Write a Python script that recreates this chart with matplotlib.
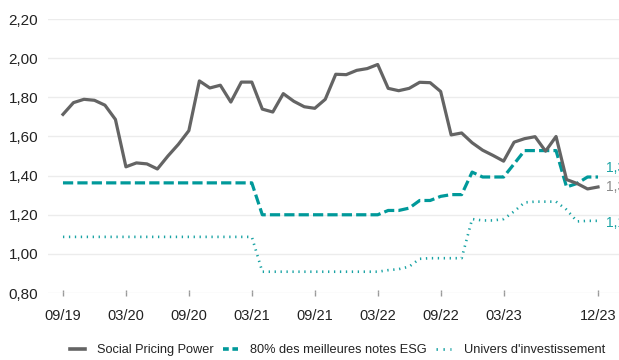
import matplotlib
matplotlib.use("Agg")
import matplotlib.pyplot as plt
from matplotlib.lines import Line2D

plt.rcParams['font.family'] = ['Liberation Sans', 'DejaVu Sans']

months = ["09/19", "10/19", "11/19", "12/19",
          "01/20", "02/20", "03/20", "04/20", "05/20", "06/20", "07/20", "08/20", "09/20", "10/20", "11/20", "12/20",
          "01/21", "02/21", "03/21", "04/21", "05/21", "06/21", "07/21", "08/21", "09/21", "10/21", "11/21", "12/21",
          "01/22", "02/22", "03/22", "04/22", "05/22", "06/22", "07/22", "08/22", "09/22", "10/22", "11/22", "12/22",
          "01/23", "02/23", "03/23", "04/23", "05/23", "06/23", "07/23", "08/23", "09/23", "10/23", "11/23", "12/23"]

social_pricing_power = [1.713, 1.773, 1.790, 1.785,
                        1.760, 1.687, 1.445, 1.465, 1.460, 1.434, 1.500, 1.560, 1.630, 1.884, 1.848, 1.862,
                        1.776, 1.878, 1.878, 1.740, 1.725, 1.819, 1.780, 1.752, 1.744, 1.790, 1.918, 1.916,
                        1.938, 1.947, 1.968, 1.846, 1.834, 1.846, 1.877, 1.875, 1.830, 1.608, 1.618, 1.568,
                        1.530, 1.503, 1.474, 1.571, 1.589, 1.599, 1.525, 1.600, 1.380, 1.360, 1.332, 1.342]

top80_esg = [1.363, 1.363, 1.363, 1.363,
             1.363, 1.363, 1.363, 1.363, 1.363, 1.363, 1.363, 1.363, 1.363, 1.363, 1.363, 1.363,
             1.363, 1.363, 1.363, 1.200, 1.200, 1.200, 1.200, 1.200, 1.200, 1.200, 1.200, 1.200,
             1.200, 1.200, 1.200, 1.222, 1.222, 1.234, 1.273, 1.273, 1.294, 1.303, 1.303, 1.418,
             1.393, 1.393, 1.393, 1.460, 1.528, 1.528, 1.528, 1.528, 1.342, 1.360, 1.393, 1.393]

univers = [1.087, 1.087, 1.087, 1.087,
           1.087, 1.087, 1.087, 1.087, 1.087, 1.087, 1.087, 1.087, 1.087, 1.087, 1.087, 1.087,
           1.087, 1.087, 1.087, 0.909, 0.909, 0.909, 0.909, 0.909, 0.909, 0.909, 0.909, 0.909,
           0.909, 0.909, 0.909, 0.917, 0.922, 0.935, 0.975, 0.978, 0.978, 0.978, 0.978, 1.178,
           1.171, 1.171, 1.178, 1.217, 1.263, 1.267, 1.267, 1.267, 1.226, 1.166, 1.169, 1.169]

series_names = ["Social Pricing Power", "80% des meilleures notes ESG", "Univers d'investissement"]
end_labels = ["1,34", "1,39", "1,17"]
tick_labels = ["09/19", "03/20", "09/20", "03/21", "09/21", "03/22", "09/22", "03/23", "12/23"]
y_ticks = [0.80, 1.00, 1.20, 1.40, 1.60, 1.80, 2.00, 2.20]

GRAY = "#646464"
TEAL = "#00999a"
TEAL2 = "#19a3a4"

fig = plt.figure(figsize=(6.19, 3.60), dpi=100)
ax = fig.add_axes([0.0775, 0.186, 0.9225, 0.761])

x = list(range(len(months)))
ax.plot(x, social_pricing_power, color=GRAY, lw=2.3, zorder=3)
ax.plot(x, top80_esg, color=TEAL, lw=2.3, dashes=(3.2, 1.3), zorder=2)
ax.plot(x, univers, color=TEAL2, lw=1.9, dashes=(0.5, 1.75), zorder=2)

ax.set_xlim(-1.43, 53.0)
ax.set_ylim(0.8, 2.2)
ax.set_yticks(y_ticks)
ax.set_yticklabels([f"{v:.2f}".replace(".", ",") for v in y_ticks], fontsize=11, color="#222222")
ax.set_xticks([months.index(t) for t in tick_labels])
ax.set_xticklabels(tick_labels, fontsize=10.5, color="#222222")
ax.tick_params(axis='y', length=0, pad=7)
ax.tick_params(axis='x', length=5, width=1, color="#9a9a9a", direction='inout', pad=9)

for s in ax.spines.values():
    s.set_visible(False)
ax.grid(axis='y', color="#ececec", lw=1)
ax.set_axisbelow(True)

# end labels (partly beyond the figure edge, as in the reference)
lx = 51.8
ax.text(lx, social_pricing_power[-1] + 0.002, end_labels[0], color="#8a8a8a", fontsize=10, va='center', ha='left', clip_on=False)
ax.text(lx, top80_esg[-1] + 0.048, end_labels[1], color=TEAL2, fontsize=10, va='center', ha='left', clip_on=False)
ax.text(lx, univers[-1] - 0.01, end_labels[2], color=TEAL2, fontsize=10, va='center', ha='left', clip_on=False)

handles = [
    Line2D([], [], color=GRAY, lw=2.6),
    Line2D([], [], color=TEAL, lw=2.6, dashes=(1.6, 1.0)),
    Line2D([], [], color=TEAL2, lw=2.0, dashes=(0.5, 2.0)),
]
fig.legend(handles, series_names, loc='center', bbox_to_anchor=(0.545, 0.027), ncol=3,
           frameon=False, fontsize=9.2, handlelength=1.15, handletextpad=1.0, columnspacing=0.7,
           labelcolor="#222222")

fig.savefig("out.png", dpi=100)
